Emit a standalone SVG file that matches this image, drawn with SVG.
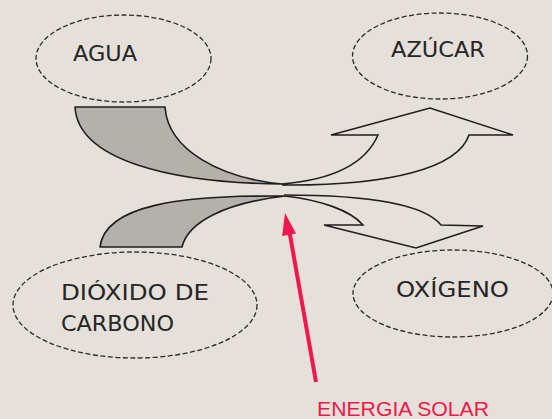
<svg xmlns="http://www.w3.org/2000/svg" width="552" height="419" viewBox="0 0 552 419">
<defs>
<style>
.node ellipse{fill:none;stroke:#2a2a2a;stroke-width:1.3;stroke-dasharray:5 2.5}
.lbl{font-family:"DejaVu Sans",sans-serif;font-size:22px;fill:#262626}
.band{fill:#b4b0ab;stroke:#1e1e1e;stroke-width:1.6;stroke-linejoin:round}
.outl{fill:none;stroke:#1e1e1e;stroke-width:1.6;stroke-linejoin:miter}
.red{fill:#f0174b;font-family:"Liberation Sans",Arial,sans-serif;font-size:21px}
</style>
</defs>
<rect width="552" height="419" fill="#e5e0da"/>
<g id="connectors">
<path class="band" d="M75 107 L165 107 C168 150 220 178 282 184 C170 183 78 160 75 107 Z"/>
<path class="outl" d="M282 184 C330 180 365 165 378 135 L331 135 L430 108 L513 135 L469 135 C458 168 390 186 282 185"/>
<path class="band" d="M100 247 L182 247 C188 222 225 203 285 196 C180 195 105 205 100 247 Z"/>
<path class="outl" d="M285 196 C320 200 350 210 363 225 L324 225 L416 248 L483 226 L441 225 C425 205 370 195 284 195"/>
<line x1="316" y1="382" x2="289.5" y2="232" stroke="#f0174b" stroke-width="4"/>
<polygon points="285,213 296,233.4 282.1,235.9" fill="#f0174b"/>
</g>
<g id="agua" class="node">
<ellipse cx="123.5" cy="58.5" rx="87.5" ry="43.5"/>
<text class="lbl" x="73" y="61" textLength="64" lengthAdjust="spacingAndGlyphs">AGUA</text>
</g>
<g id="azucar" class="node">
<ellipse cx="440" cy="56" rx="87.5" ry="43"/>
<text class="lbl" x="391" y="57" textLength="94" lengthAdjust="spacingAndGlyphs">AZÚCAR</text>
</g>
<g id="dioxido" class="node">
<ellipse cx="135" cy="305" rx="122" ry="53"/>
<text class="lbl" x="61" y="300" textLength="148" lengthAdjust="spacingAndGlyphs">DIÓXIDO DE</text>
<text class="lbl" x="61" y="331" textLength="113" lengthAdjust="spacingAndGlyphs">CARBONO</text>
</g>
<g id="oxigeno" class="node">
<ellipse cx="453" cy="293.5" rx="100" ry="43.5"/>
<text class="lbl" x="396" y="297" textLength="113" lengthAdjust="spacingAndGlyphs">OXÍGENO</text>
</g>
<g id="energia">
<text class="red" x="317" y="416" textLength="172" lengthAdjust="spacingAndGlyphs">ENERGIA SOLAR</text>
</g>
</svg>
